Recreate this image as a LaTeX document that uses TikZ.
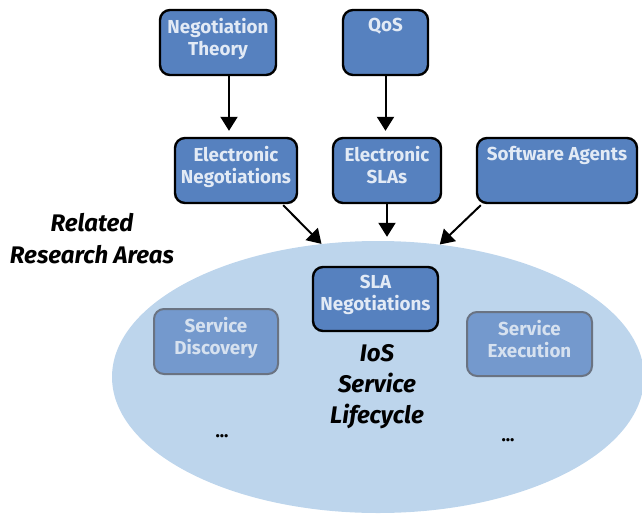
\documentclass[tikz,border=0pt]{standalone}
\usepackage{fontspec}
\setmainfont{Fira Sans}
\usetikzlibrary{arrows.meta,shapes.geometric}
\definecolor{boxblue}{HTML}{5681BF}
\definecolor{boxtext}{HTML}{E2EAF5}
\definecolor{fadeblue}{HTML}{7499CD}
\definecolor{fadeborder}{HTML}{6A7382}
\definecolor{fadetext}{HTML}{D6E1EF}
\definecolor{ellfill}{HTML}{BDD5EC}
\tikzset{
  box/.style={draw=black, line width=2.4pt, fill=boxblue, rounded corners=10pt, inner sep=0pt},
  fadebox/.style={draw=fadeborder, line width=2pt, fill=fadeblue, rounded corners=10pt, inner sep=0pt},
  btext/.style={anchor=north, inner sep=0pt, align=center, text=boxtext, font=\fontsize{18.8}{22}\selectfont\bfseries},
  ftext/.style={anchor=north, inner sep=0pt, align=center, text=fadetext, font=\fontsize{18.8}{22}\selectfont\bfseries},
  bigital/.style={inner sep=0pt, align=center, font=\fontsize{24}{31}\selectfont\bfseries\itshape},
  arr/.style={line width=2pt, -{Triangle[length=14pt,width=17pt]}},
}
\begin{document}
\begin{tikzpicture}[x=1pt,y=-1pt]
\useasboundingbox (0,0) rectangle (642,514);
% ellipse
\node[ellipse, fill=ellfill, minimum width=532pt, minimum height=272pt, inner sep=0pt] (life) at (378,377) {};
% top boxes
\node[box, minimum width=116pt, minimum height=65pt] (nt) at (218,42.5) {};
\node[btext] (ntt) at ([yshift=-9pt]nt.north) {Negotiation\\Theory};
\node[box, minimum width=85pt, minimum height=65pt] (qos) at (385.5,42.5) {};
\node[btext] (qost) at ([yshift=-9pt]qos.north) {QoS};
% middle boxes
\node[box, minimum width=122pt, minimum height=65pt] (en) at (236,170.5) {};
\node[btext] (ent) at ([yshift=-9pt]en.north) {Electronic\\Negotiations};
\node[box, minimum width=108pt, minimum height=65pt] (esla) at (387,170.5) {};
\node[btext] (eslat) at ([yshift=-9pt]esla.north) {Electronic\\SLAs};
\node[box, minimum width=160pt, minimum height=65pt] (sa) at (557,170.5) {};
\node[btext] (sat) at ([yshift=-9pt]sa.north) {Software Agents};
% inner boxes
\node[box, minimum width=125pt, minimum height=64pt] (slan) at (375.5,299) {};
\node[btext] (slant) at ([yshift=-9pt]slan.north) {SLA\\Negotiations};
\node[fadebox, minimum width=124pt, minimum height=65pt] (sd) at (216,341.5) {};
\node[ftext] (sdt) at ([yshift=-9pt]sd.north) {Service\\Discovery};
\node[fadebox, minimum width=125pt, minimum height=64pt] (se) at (529.5,344) {};
\node[ftext] (set) at ([yshift=-9pt]se.north) {Service\\Execution};
% texts
\node[bigital, anchor=base] (rel) at (92,231) {Related};
\node[bigital, anchor=base] (rra) at (92,263) {Research Areas};
\node[bigital, anchor=base] (ios) at (377,361) {IoS};
\node[bigital, anchor=base] (svc) at (377,392) {Service};
\node[bigital, anchor=base] (lfc) at (377,423) {Lifecycle};
\node[inner sep=0pt, font=\fontsize{18}{18}\selectfont\bfseries, anchor=base] (dots1) at (222,437) {...};
\node[inner sep=0pt, font=\fontsize{18}{18}\selectfont\bfseries, anchor=base] (dots2) at (508,441) {...};
% arrows
\draw[arr] ([xshift=11pt]nt.south) -- ([xshift=11pt,yshift=6pt]nt.south |- en.north);
\draw[arr] (qos.south) -- ([yshift=6pt]qos.south |- esla.north);
\draw[arr] (esla.south) -- ([yshift=4pt]esla.south |- life.north);
\draw[arr] ([xshift=-15pt,yshift=-1pt]en.south east) -- (life.113);
\draw[arr] ([xshift=5pt,yshift=-1pt]sa.south west) -- (life.65);
\end{tikzpicture}
\end{document}
